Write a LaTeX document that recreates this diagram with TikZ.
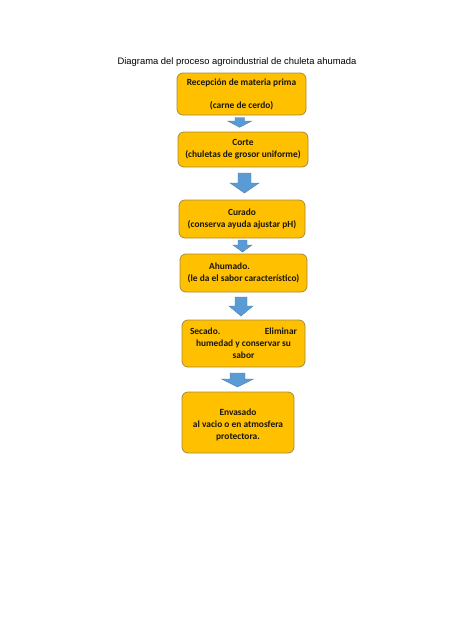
\documentclass[tikz,border=0pt]{standalone}
\usepackage{fontspec}
\setmainfont{Carlito}
\newfontfamily\titlefont{Liberation Sans}
\definecolor{caja}{HTML}{FFC000}
\definecolor{borde}{HTML}{A88A3A}
\definecolor{azul}{HTML}{5B9BD5}
\definecolor{azulborde}{HTML}{4A7FB0}
\definecolor{texto}{HTML}{1A160C}
\begin{document}
\begin{tikzpicture}[x=1pt,y=-1pt,
    paso/.style={draw=borde,line width=0.8pt,fill=caja,rounded corners=6pt,align=center,
      text=texto,font=\fontsize{9.4}{12}\selectfont\bfseries,inner sep=0pt},
    flecha/.style={draw=azulborde,line width=0.4pt,fill=azul,line join=miter}]
    \useasboundingbox (0,0) rectangle (474,632);
    \node[font=\titlefont\fontsize{9.4}{11}\selectfont](titulo) at (237,62){Diagrama del proceso agroindustrial de chuleta ahumada};
    \node[paso,minimum width=129pt,minimum height=42pt](recepcion) at (241.5,94){Recepción de materia prima\\[11pt](carne de cerdo)};
    \node[paso,minimum width=130pt,minimum height=35pt](corte) at (243,149.5){Corte\\(chuletas de grosor uniforme)};
    \node[paso,minimum width=126pt,minimum height=38pt](curado) at (242,219){Curado\\(conserva ayuda ajustar pH)};
    \node[paso,minimum width=127pt,minimum height=38pt](ahumado) at (243.5,273){Ahumado.\hspace*{28pt}\\(le da el sabor característico)};
    \node[paso,minimum width=123pt,minimum height=47pt](secado) at (243.5,343.5){\makebox[107pt][s]{Secado.\hfill Eliminar}\\humedad y conservar su\\sabor};
    \node[paso,minimum width=112pt,minimum height=61pt](envasado) at (238,422.5){\rule{0pt}{12pt}Envasado\\al vacio o en atmosfera\\protectora.};
    % flechas de bloque entre los pasos
    \filldraw[flecha] (235,117.5) -- (244.5,117.5) -- (244.5,121) -- (251.7,121) -- (239.7,127.3) -- (227.7,121) -- (235,121) -- cycle;
    \filldraw[flecha] (238,173) -- (251,173) -- (251,183) -- (259,183) -- (244.5,193) -- (230,183) -- (238,183) -- cycle;
    \filldraw[flecha] (238,240) -- (247,240) -- (247,245) -- (252,245) -- (242.5,252) -- (233,245) -- (238,245) -- cycle;
    \filldraw[flecha] (235,297) -- (247,297) -- (247,306) -- (253,306) -- (241,316) -- (229,306) -- (235,306) -- cycle;
    \filldraw[flecha] (230,373) -- (245,373) -- (245,379) -- (253.5,379) -- (237.5,387) -- (221.5,379) -- (230,379) -- cycle;
\end{tikzpicture}
\end{document}
